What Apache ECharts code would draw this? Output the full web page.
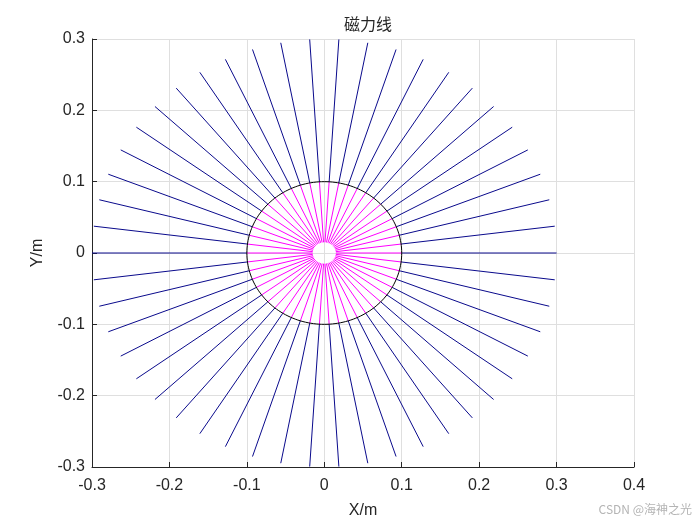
<!DOCTYPE html>
<html>
<head>
<meta charset="utf-8">
<script src="https://cdn.jsdelivr.net/npm/echarts@6/dist/echarts.min.js"></script>
<style>html,body{margin:0;padding:0;background:#fff;}#c{width:700px;height:525px;}</style>
</head>
<body>
<div id="c"></div>
<script>
// Field-line directions (degrees)
const lineAnglesDeg = [0, 7.2, 14.4, 21.6, 28.8, 36, 43.2, 50.4, 57.6, 64.8,
  72, 79.2, 86.4, 93.6, 100.8, 108, 115.2, 122.4, 129.6, 136.8,
  144, 151.2, 158.4, 165.6, 172.8, 180, 187.2, 194.4, 201.6, 208.8,
  216, 223.2, 230.4, 237.6, 244.8, 252, 259.2, 266.4, 273.6, 280.8,
  288, 295.2, 302.4, 309.6, 316.8, 324, 331.2, 338.4, 345.6, 352.8];
const innerRadius = 0.015;   // start of magenta lines
const boundaryRadius = 0.1;  // black circle
const outerRadius = 0.3;     // end of blue lines
const xTicks = [-0.3, -0.2, -0.1, 0, 0.1, 0.2, 0.3, 0.4];
const yTicks = [-0.3, -0.2, -0.1, 0, 0.1, 0.2, 0.3];
const titleText = '磁力线';
const xName = 'X/m';
const yName = 'Y/m';

function pt(r, deg) {
  const a = deg * Math.PI / 180;
  return [r * Math.cos(a), r * Math.sin(a)];
}
const circlePts = [];
for (let d = 0; d <= 360; d += 2) circlePts.push(pt(boundaryRadius, d));

const fmt = v => { const s = (Math.round(v * 10) / 10).toFixed(1); return (s === '0.0' || s === '-0.0') ? '0' : s; };
const FONT = "'Liberation Sans', Arial, Helvetica, sans-serif";
const axisColor = '#262626';
const blue = '#0a0a8c';
const magenta = '#ff00ff';

function seg(a, b, color, z) {
  return {type: 'line', data: [a, b], showSymbol: false, symbol: 'none', silent: true,
          lineStyle: {color: color, width: 1}, itemStyle: {color: color}, z: z};
}
const series = [];
lineAnglesDeg.forEach(d => series.push(seg(pt(boundaryRadius, d), pt(outerRadius, d), blue, 2)));
lineAnglesDeg.forEach(d => series.push(seg(pt(innerRadius, d), pt(boundaryRadius, d), magenta, 3)));
series.push({type: 'line', data: circlePts, showSymbol: false, symbol: 'none', smooth: false, silent: true,
             lineStyle: {color: '#000000', width: 1}, z: 4});

const chart = echarts.init(document.getElementById('c'), null, {renderer: 'canvas'});
chart.setOption({
  animation: false,
  backgroundColor: '#ffffff',
  title: {
    text: titleText, left: 363, top: 11, textAlign: 'center',
    textStyle: {fontFamily: "'Noto Sans CJK SC', sans-serif", fontSize: 16, fontWeight: 'normal', color: axisColor}
  },
  grid: {left: 92, top: 39, width: 542, height: 428, containLabel: false},
  xAxis: {
    type: 'value', min: xTicks[0], max: xTicks[xTicks.length - 1], interval: 0.1,
    name: xName, nameLocation: 'middle', nameGap: 36,
    nameTextStyle: {fontFamily: FONT, fontSize: 16, color: axisColor},
    axisLine: {show: true, onZero: false, lineStyle: {color: axisColor, width: 1}},
    axisTick: {show: true, inside: true, length: 5, lineStyle: {color: axisColor}},
    axisLabel: {formatter: fmt, fontFamily: FONT, fontSize: 16, color: axisColor, margin: 11},
    splitLine: {show: true, lineStyle: {color: '#dfdfdf', width: 1}}
  },
  yAxis: {
    type: 'value', min: yTicks[0], max: yTicks[yTicks.length - 1], interval: 0.1,
    name: yName, nameLocation: 'middle', nameGap: 46, nameRotate: 90,
    nameTextStyle: {fontFamily: FONT, fontSize: 16, color: axisColor},
    axisLine: {show: true, onZero: false, lineStyle: {color: axisColor, width: 1}},
    axisTick: {show: true, inside: true, length: 5, lineStyle: {color: axisColor}},
    axisLabel: {formatter: fmt, fontFamily: FONT, fontSize: 16, color: axisColor, margin: 7},
    splitLine: {show: true, lineStyle: {color: '#dfdfdf', width: 1}}
  },
  series: series,
  graphic: [{
    type: 'text', right: 8, top: 503,
    style: {text: 'CSDN @海神之光', fill: '#b4b4b4', font: "12px 'Noto Sans CJK SC', sans-serif"}
  }]
});
</script>
</body>
</html>
